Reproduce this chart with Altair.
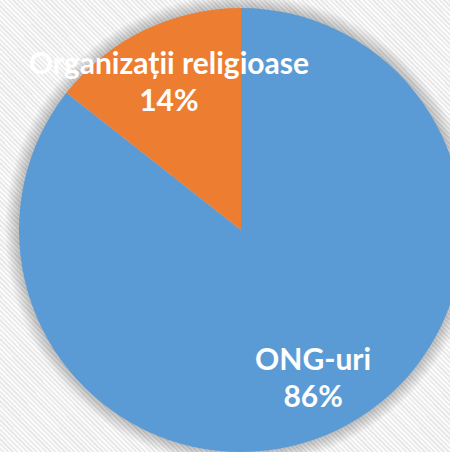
import altair as alt
import pandas as pd

# ---- data ----
categories = ["ONG-uri", "Organizații religioase"]
shares = [85.6, 14.4]
colors = ["#5B9BD5", "#ED7D31"]

df = pd.DataFrame({
    "cat": categories,
    "share": shares,
    "ord": list(range(len(categories))),
})

# layout: pie centred at (241, 230) in a 450x452 page, radius 222
PAD_L, PAD_T = 32, 8
W, H = 450 - PAD_L, 452 - PAD_T
R = 222

# striped background as a hard-stop linear gradient
n_periods = 190
p = 1.0 / n_periods
stops = []
for k in range(n_periods):
    a = k * p
    stops += [
        {"offset": min(1.0, a), "color": "#fbfbfb"},
        {"offset": min(1.0, a + p * 0.5), "color": "#fbfbfb"},
        {"offset": min(1.0, a + p * 0.5), "color": "#e9e9e9"},
        {"offset": min(1.0, a + p), "color": "#e9e9e9"},
    ]
grad = {"gradient": "linear", "x1": 0, "y1": 1, "x2": 1, "y2": 0, "stops": stops}

bg = alt.Chart(alt.Data(values=[{"a": 1}])).mark_rect(fill=grad).encode(
    x=alt.value(-PAD_L), x2=alt.value("width"), y=alt.value(-PAD_T), y2=alt.value("height")
)

base = alt.Chart(df).encode(
    theta=alt.Theta("share:Q", stack=True),
    order=alt.Order("ord:Q"),
)

glows = []
for k in range(1, 15):
    glows.append(
        base.mark_arc(radius=R + k, fill="#000000", fillOpacity=0.017, strokeWidth=0)
    )

pie = base.mark_arc(radius=R, strokeWidth=0).encode(
    color=alt.Color("cat:N", scale=alt.Scale(domain=categories, range=colors), legend=None)
)

labels = base.transform_calculate(
    label="datum.cat + '\\n' + format(datum.share / 100, '.0%')"
).mark_text(
    radius=165, font="Lato", fontWeight="bold", fontSize=30, color="white",
    lineBreak="\n", lineHeight=37, align="center", baseline="middle", dy=-17
).encode(text="label:N")

chart = alt.layer(bg, *glows, pie, labels).properties(
    width=W, height=H,
    padding={"left": PAD_L, "top": PAD_T, "right": 0, "bottom": 0},
    autosize=alt.AutoSizeParams(type="none"),
).configure_view(strokeWidth=0)

chart.save("out.html", embed_options={"renderer": "svg", "actions": False})
